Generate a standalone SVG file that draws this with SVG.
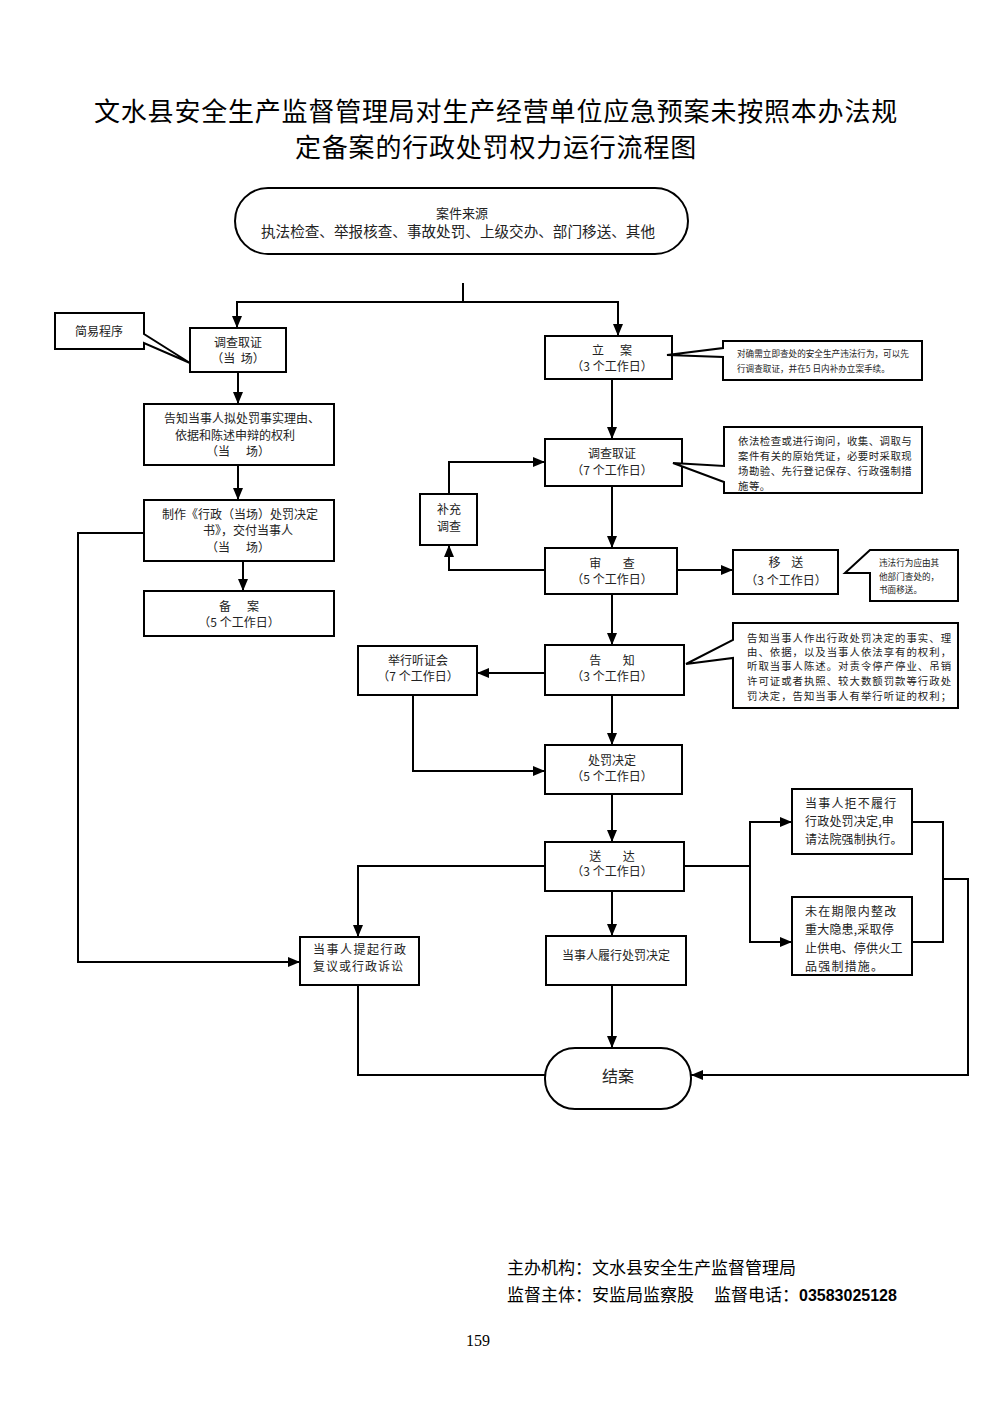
<svg xmlns="http://www.w3.org/2000/svg" width="992" height="1403" viewBox="0 0 992 1403">
<style>
text{font-family:"Noto Sans CJK SC","Liberation Sans",sans-serif;fill:#222;white-space:pre}
.t{font-size:12px;text-anchor:middle}
.b{fill:#fff;stroke:#000;stroke-width:2}
.c{fill:none;stroke:#000;stroke-width:2}
.ttl{font-size:26px;letter-spacing:0.8px;text-anchor:middle;fill:#000}
.s9{font-size:8.6px}
.s10{font-size:10.4px;letter-spacing:0.5px}
.e{font-size:12px;letter-spacing:1.2px}
</style>
<defs>
<marker id="ah" viewBox="0 0 12 10" refX="12" refY="5" markerWidth="12" markerHeight="10" orient="auto" markerUnits="userSpaceOnUse"><path d="M0,0 L12,5 L0,10 Z" fill="#000"/></marker>
</defs>
<rect width="992" height="1403" fill="#fff"/>
<g id="title">
<text class="ttl" x="496" y="121">文水县安全生产监督管理局对生产经营单位应急预案未按照本办法规</text>
<text class="ttl" x="496" y="157">定备案的行政处罚权力运行流程图</text>
</g>
<g id="connectors">
<path class="c" d="M463,283 V302"/>
<path class="c" d="M463,302 H237 V328" marker-end="url(#ah)"/>
<path class="c" d="M463,302 H618 V336" marker-end="url(#ah)"/>
<path class="c" d="M238,372 V404" marker-end="url(#ah)"/>
<path class="c" d="M238,465 V500" marker-end="url(#ah)"/>
<path class="c" d="M243,561 V591" marker-end="url(#ah)"/>
<path class="c" d="M144,533 H78 V962 H300" marker-end="url(#ah)"/>
<path class="c" d="M612,379 V439" marker-end="url(#ah)"/>
<path class="c" d="M612,486 V548" marker-end="url(#ah)"/>
<path class="c" d="M545,570 H449 V545" marker-end="url(#ah)"/>
<path class="c" d="M449,494 V462 H545" marker-end="url(#ah)"/>
<path class="c" d="M677,570 H733" marker-end="url(#ah)"/>
<path class="c" d="M612,594 V645" marker-end="url(#ah)"/>
<path class="c" d="M545,673 H477" marker-end="url(#ah)"/>
<path class="c" d="M413,695 V771 H545" marker-end="url(#ah)"/>
<path class="c" d="M612,695 V745" marker-end="url(#ah)"/>
<path class="c" d="M612,794 V842" marker-end="url(#ah)"/>
<path class="c" d="M545,866 H358 V937" marker-end="url(#ah)"/>
<path class="c" d="M358,985 V1075 H545"/>
<path class="c" d="M612,891 V936" marker-end="url(#ah)"/>
<path class="c" d="M612,985 V1048" marker-end="url(#ah)"/>
<path class="c" d="M684,866 H750"/>
<path class="c" d="M750,866 V822 H792" marker-end="url(#ah)"/>
<path class="c" d="M750,866 V942 H792" marker-end="url(#ah)"/>
<path class="c" d="M912,822 H943 V942 H912"/>
<path class="c" d="M943,879 H968 V1075 H691" marker-end="url(#ah)"/>
</g>
<g id="source">
<rect class="b" x="235" y="188" width="453" height="66" rx="33"/>
<text class="t" x="462" y="218" style="font-size:13px">案件来源</text>
<text class="t" x="458" y="237" style="font-size:14.6px">执法检查、举报核查、事故处罚、上级交办、部门移送、其他</text>
</g>
<g id="simple">
<path class="b" d="M55,313 H144 V334 L190,363 L144,343 V349 H55 Z"/>
<text class="t" x="99" y="336">简易程序</text>
</g>
<g id="l-invest">
<rect class="b" x="190" y="328" width="96" height="44"/>
<text class="t" x="238" y="347">调查取证</text>
<text class="t" x="238" y="363">（当  场）</text>
</g>
<g id="l-notify">
<rect class="b" x="144" y="404" width="190" height="61"/>
<text class="t" x="242" y="423">告知当事人拟处罚事实理由、</text>
<text class="t" x="235" y="440">依据和陈述申辩的权利</text>
<text class="t" x="238" y="456">（当      场）</text>
</g>
<g id="l-decide">
<rect class="b" x="144" y="500" width="190" height="61"/>
<text class="t" x="240" y="519">制作《行政（当场）处罚决定</text>
<text class="t" x="248" y="535">书》，交付当事人</text>
<text class="t" x="238" y="552">（当      场）</text>
</g>
<g id="l-file">
<rect class="b" x="144" y="591" width="190" height="45"/>
<text class="t" x="239" y="611">备      案</text>
<text class="t" x="239" y="627">（5 个工作日）</text>
</g>
<g id="lian">
<rect class="b" x="545" y="336" width="127" height="43"/>
<text class="t" x="612" y="355">立      案</text>
<text class="t" x="612" y="371">（3 个工作日）</text>
</g>
<g id="note1">
<path class="b" d="M723,341 H922 V380 H723 V357 L667,355 L723,348 Z"/>
<text class="s9" x="737" y="357">对确需立即查处的安全生产违法行为，可以先</text>
<text class="s9" x="737" y="372">行调查取证，并在5 日内补办立案手续。</text>
</g>
<g id="invest">
<rect class="b" x="545" y="439" width="137" height="47"/>
<text class="t" x="612" y="458">调查取证</text>
<text class="t" x="612" y="475">（7 个工作日）</text>
</g>
<g id="note2">
<path class="b" d="M724,427 H922 V493 H724 V482 L673,463 L724,466 Z"/>
<text class="s10" x="738" y="445">依法检查或进行询问，收集、调取与</text>
<text class="s10" x="738" y="460">案件有关的原始凭证，必要时采取现</text>
<text class="s10" x="738" y="475">场勘验、先行登记保存、行政强制措</text>
<text class="s10" x="738" y="490">施等。</text>
</g>
<g id="supp">
<rect class="b" x="420" y="494" width="57" height="51"/>
<text class="t" x="449" y="514">补充</text>
<text class="t" x="449" y="531">调查</text>
</g>
<g id="review">
<rect class="b" x="545" y="548" width="132" height="46"/>
<text class="t" x="612" y="568">审        查</text>
<text class="t" x="612" y="584">（5 个工作日）</text>
</g>
<g id="transfer">
<rect class="b" x="733" y="550" width="105" height="44"/>
<text class="t" x="786" y="567">移    送</text>
<text class="t" x="786" y="585">（3 个工作日）</text>
</g>
<g id="note3">
<path class="b" d="M870,550 H958 V601 H870 V573 L845,573 Z"/>
<text class="s9" x="879" y="566">违法行为应由其</text>
<text class="s9" x="879" y="580">他部门查处的，</text>
<text class="s9" x="879" y="593">书面移送。</text>
</g>
<g id="inform">
<rect class="b" x="545" y="645" width="139" height="50"/>
<text class="t" x="612" y="665">告        知</text>
<text class="t" x="612" y="681">（3 个工作日）</text>
</g>
<g id="note4">
<path class="b" d="M733,623 H958 V708 H733 V658 L686,664 L733,640 Z"/>
<text class="s10" x="747" y="642" style="letter-spacing:1px">告知当事人作出行政处罚决定的事实、理</text>
<text class="s10" x="747" y="656" style="letter-spacing:1px">由、依据，以及当事人依法享有的权利，</text>
<text class="s10" x="747" y="670" style="letter-spacing:1px">听取当事人陈述。对责令停产停业、吊销</text>
<text class="s10" x="747" y="685" style="letter-spacing:1px">许可证或者执照、较大数额罚款等行政处</text>
<text class="s10" x="747" y="700" style="letter-spacing:1px">罚决定，告知当事人有举行听证的权利；</text>
</g>
<g id="hearing">
<rect class="b" x="358" y="646" width="119" height="49"/>
<text class="t" x="418" y="665">举行听证会</text>
<text class="t" x="418" y="681">（7 个工作日）</text>
</g>
<g id="decision">
<rect class="b" x="545" y="745" width="137" height="49"/>
<text class="t" x="612" y="765">处罚决定</text>
<text class="t" x="612" y="781">（5 个工作日）</text>
</g>
<g id="deliver">
<rect class="b" x="545" y="842" width="139" height="49"/>
<text class="t" x="612" y="861">送        达</text>
<text class="t" x="612" y="876">（3 个工作日）</text>
</g>
<g id="enforce1">
<rect class="b" x="792" y="789" width="120" height="65"/>
<text class="e" x="805" y="808">当事人拒不履行</text>
<text class="e" x="805" y="826" style="letter-spacing:0.2px">行政处罚决定,申</text>
<text class="e" x="805" y="844" style="letter-spacing:0.2px">请法院强制执行。</text>
</g>
<g id="enforce2">
<rect class="b" x="792" y="897" width="120" height="78"/>
<text class="e" x="805" y="916">未在期限内整改</text>
<text class="e" x="805" y="934" style="letter-spacing:0.2px">重大隐患,采取停</text>
<text class="e" x="805" y="953" style="letter-spacing:0.2px">止供电、停供火工</text>
<text class="e" x="805" y="971">品强制措施。</text>
</g>
<g id="appeal">
<rect class="b" x="300" y="937" width="119" height="48"/>
<text x="313" y="954" style="font-size:12px;letter-spacing:1.5px">当事人提起行政</text>
<text x="313" y="971" style="font-size:12px;letter-spacing:1px">复议或行政诉讼</text>
</g>
<g id="comply">
<rect class="b" x="546" y="936" width="140" height="49"/>
<text class="t" x="616" y="960">当事人履行处罚决定</text>
</g>
<g id="close">
<rect class="b" x="545" y="1048" width="146" height="61" rx="30"/>
<text class="t" x="618" y="1082" style="font-size:16px">结案</text>
</g>
<g id="footer">
<text x="507" y="1274" style="font-size:17px;fill:#000">主办机构：文水县安全生产监督管理局</text>
<text x="507" y="1301" style="font-size:17px;fill:#000">监督主体：安监局监察股</text>
<text x="714" y="1301" style="font-size:17px;fill:#000">监督电话：<tspan style="font-weight:bold;font-size:16px;font-family:'Liberation Sans',sans-serif">03583025128</tspan></text>
<text x="478" y="1346" style="font-size:16px;text-anchor:middle;font-family:'Liberation Serif',serif;fill:#000">159</text>
</g>
</svg>
